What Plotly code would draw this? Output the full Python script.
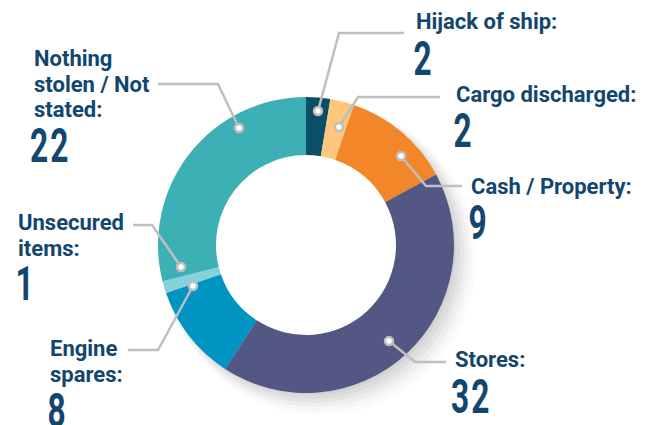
import plotly.graph_objects as go

# ---- data ----
categories = ["Hijack of ship", "Cargo discharged", "Cash / Property", "Stores",
              "Engine spares", "Unsecured items", "Nothing stolen / Not stated"]
values = [2, 2, 9, 32, 8, 1, 22]
colors = ["#0b4f67", "#fdc77d", "#f4862a", "#525783", "#0094c2", "#87d1db", "#3cb0b5"]
label_lines = [["Hijack of ship:"], ["Cargo discharged:"], ["Cash / Property:"], ["Stores:"],
               ["Engine", "spares:"], ["Unsecured", "items:"], ["Nothing", "stolen / Not", "stated:"]]

# ---- layout (pixel positions) ----
W, H = 654, 425
CX, CY, R, RIN = 306, 245, 148, 90
TXT = "#12466f"
LINE = "#bfbfbf"

# text anchor: (x_left, first line centre y), line pitch 26; number centre y
label_pos = [(414, 22), (454, 94), (469, 187), (453, 359), (48, 348), (16, 222), (32, 58)]
num_pos = [(413, 58), (453, 130), (468, 222), (452, 396), (47, 410), (15, 283), (31, 145)]
# leader: dot, elbow, end
leaders = [
    [(318, 111), (339, 33), (404, 33)],
    [(339, 127), (358, 97), (440, 97)],
    [(401, 156), (426, 186), (462, 186)],
    [(389, 341), (415, 362), (446, 362)],
    [(193, 286), (158, 350), (128, 350)],
    [(181, 267), (152, 225), (133, 225)],
    [(239, 128), (218, 84), (158, 84)],
]


def px(x):
    return x / W


def py(y):
    return 1 - y / H


fig = go.Figure()
fig.add_trace(go.Pie(
    labels=categories, values=values, sort=False, direction="clockwise", rotation=0,
    hole=RIN / R, marker=dict(colors=colors, line=dict(width=0)),
    textinfo="none", hoverinfo="label+value", showlegend=False,
    domain=dict(x=[px(CX - R), px(CX + R)], y=[py(CY + R), py(CY - R)]),
))

shapes = []
# soft drop shadow (layered translucent discs, below the pie)
for off, grow, op in [(14, 8, 0.015), (12, 6, 0.02), (10, 4, 0.03), (8, 2, 0.035),
                      (6, 0, 0.04), (4, -2, 0.04)]:
    r = R + grow
    shapes.append(dict(type="circle", xref="paper", yref="paper", layer="below",
                       x0=px(CX + off - r), x1=px(CX + off + r),
                       y0=py(CY + off + r), y1=py(CY + off - r),
                       fillcolor=f"rgba(0,0,0,{op})", line=dict(width=0)))
# keep hole white
shapes.append(dict(type="circle", xref="paper", yref="paper", layer="below",
                   x0=px(CX - RIN - 1), x1=px(CX + RIN + 1), y0=py(CY + RIN + 1), y1=py(CY - RIN - 1),
                   fillcolor="white", line=dict(width=0)))

for pts in leaders:
    path = "M " + " L ".join(f"{px(x)},{py(y)}" for x, y in pts)
    shapes.append(dict(type="path", xref="paper", yref="paper", layer="above", path=path,
                       line=dict(color=LINE, width=2.5)))
    dx, dy = pts[0]
    rr = 4
    shapes.append(dict(type="circle", xref="paper", yref="paper", layer="above",
                       x0=px(dx - rr), x1=px(dx + rr), y0=py(dy + rr), y1=py(dy - rr),
                       fillcolor="white", line=dict(color=LINE, width=2.5)))

annotations = []
num_idx = []
for lines, (lx, ly), (nx, ny), v in zip(label_lines, label_pos, num_pos, values):
    for k, t in enumerate(lines):
        annotations.append(dict(x=px(lx), y=py(ly + 26 * k), xref="paper", yref="paper",
                                text=f"<b>{t}</b>", showarrow=False, xanchor="left", yanchor="middle",
                                font=dict(family="Roboto", size=22, color=TXT)))
    num_idx.append(len(annotations))
    annotations.append(dict(x=px(nx), y=py(ny), xref="paper", yref="paper",
                            text=f"<b>{v}</b>", showarrow=False, xanchor="left", yanchor="middle",
                            font=dict(family="Roboto", size=48, color=TXT)))

fig.update_layout(width=W, height=H, margin=dict(l=0, r=0, t=0, b=0),
                  paper_bgcolor="white", plot_bgcolor="white",
                  shapes=shapes, annotations=annotations)

sel = ",".join(f'g.annotation[data-index="{i}"] text' for i in num_idx)
css = sel + "{transform-box:fill-box;transform-origin:0 50%;transform:scaleX(0.66);letter-spacing:3px;}"
post = ("document.body.style.margin='0';"
        "var st=document.createElement('style');st.textContent=" + repr(css) + ";"
        "document.head.appendChild(st);")
fig.write_html("out.html", post_script=post, config={"displayModeBar": False})
